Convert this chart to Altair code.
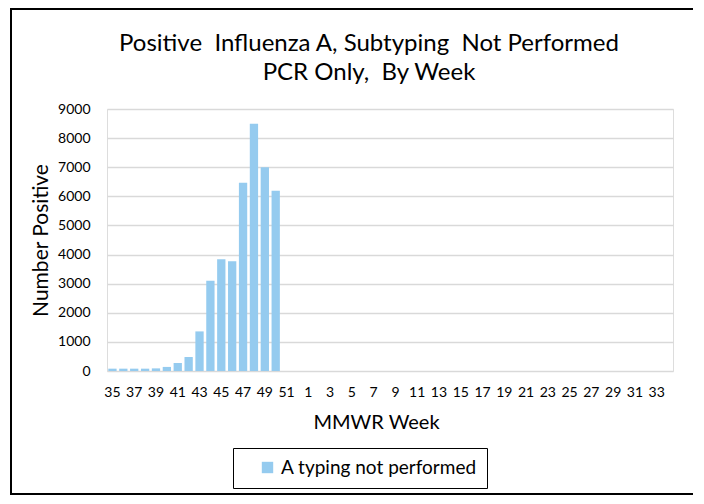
import altair as alt
import pandas as pd

weeks = [str(w) for w in list(range(35, 53)) + list(range(1, 35))]
positives = [80, 80, 80, 80, 90, 140, 275, 480, 1360, 3100, 3835, 3770,
             6470, 8490, 7000, 6195] + [None] * 36
tick_labels = [str(w) for w in list(range(35, 52, 2)) + list(range(1, 34, 2))]
series_name = "A typing not performed"
title_lines = ["Positive\u00a0 Influenza A, Subtyping\u00a0 Not Performed",
               "PCR Only,\u00a0 By Week"]

df = pd.DataFrame({"week": weeks, "positive": positives, "series": series_name})

FONT = "Lato"
W, H = 566, 262

bars = alt.Chart(df).mark_bar(size=8.3).encode(
    x=alt.X("week:O", sort=weeks,
            scale=alt.Scale(domain=weeks, paddingInner=0.24, paddingOuter=0.12),
            axis=alt.Axis(values=tick_labels, title="MMWR Week", labelAngle=0,
                          ticks=False, domain=False, labelFont=FONT, labelFontSize=14,
                          labelColor="#000", labelPadding=14, titleFont=FONT,
                          titleFontSize=20, titleFontWeight="normal", titleColor="#000",
                          titlePadding=13, titleX=269, labelOverlap=False)),
    y=alt.Y("positive:Q",
            scale=alt.Scale(domain=[0, 9000], nice=False),
            axis=alt.Axis(values=list(range(0, 9001, 1000)), title="Number Positive",
                          format="d",
                          ticks=False, domain=False, grid=True, gridColor="#D9D9D9",
                          gridWidth=1.5, labelFont=FONT, labelFontSize=14,
                          labelColor="#000", labelPadding=17, titleFont=FONT,
                          titleFontSize=21, titleFontWeight="normal", titleColor="#000",
                          titlePadding=6)),
    color=alt.Color("series:N", scale=alt.Scale(range=["#95CBEF"]),
                    legend=alt.Legend(title=None, orient="none", legendX=126, legendY=339,
                                      symbolType="square", symbolSize=130,
                                      symbolOffset=15,
                                      labelFont=FONT, labelFontSize=19, labelColor="#000",
                                      labelLimit=400, labelOffset=4,
                                      strokeColor="#000", padding=10,
                                      symbolStrokeWidth=0)),
)

frame = alt.Chart(df).mark_rect(fill=None, stroke="#000", strokeWidth=2).encode(
    x=alt.value(-96), x2=alt.value(587), y=alt.value(-100), y2=alt.value(385)
)

chart = alt.layer(frame, bars).properties(
    width=W, height=H,
    title=alt.TitleParams(title_lines, font=FONT, fontSize=24, fontWeight="normal",
                          color="#000", anchor="middle", frame="group", dx=-21,
                          offset=-77, lineHeight=29),
    autosize=alt.AutoSizeParams(type="none"),
    padding={"left": 99, "top": 101, "right": 20, "bottom": 125},
).configure_view(stroke="#000", strokeWidth=2).configure(background="white")

chart.save("out.html", embed_options={"renderer": "svg", "actions": False})
